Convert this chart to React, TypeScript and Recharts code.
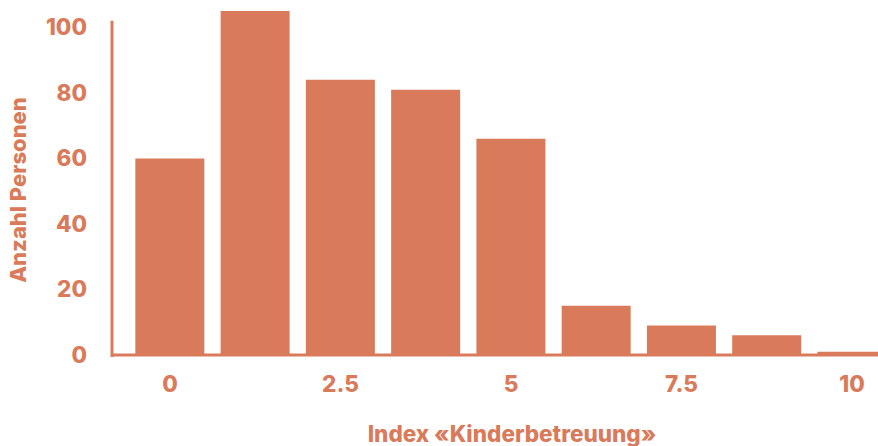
import React from 'react';
import { BarChart, Bar, XAxis, YAxis, ReferenceLine } from 'recharts';

const indexValues = [0, 1.25, 2.5, 3.75, 5, 6.25, 7.5, 8.75, 10];
const counts = [60, 105, 84, 81, 66, 15, 9, 6, 1];
const xTicks = [0, 2.5, 5, 7.5, 10];
const yTicks = [0, 20, 40, 60, 80, 100];

const data = indexValues.map((v, i) => ({ index: v, count: counts[i] }));

const COLOR = '#D97B5B';
const FONT = 'Inter, "Noto Sans", sans-serif';
const X_MIN = -0.85;
const X_MAX = 10.38;

const tickStyle = { fill: COLOR, fontSize: 22.5, fontWeight: 800, fontFamily: FONT };

export default function App() {
  return (
    <div style={{ position: 'absolute', left: 0, top: 0, width: 878, height: 446, background: '#fff' }}>
      <BarChart width={878} height={446} data={data} margin={{ top: 11, right: 0, left: 0, bottom: 0 }}>
        <XAxis
          type="number"
          dataKey="index"
          domain={[X_MIN, X_MAX]}
          allowDataOverflow
          ticks={xTicks}
          interval={0}
          tickLine={false}
          axisLine={{ stroke: COLOR, strokeWidth: 3 }}
          tickSize={0}
          tickMargin={21}
          height={91}
          tick={tickStyle}
          label={{
            content: (props: any) => {
              const vb = props.viewBox;
              const cx = vb.x + vb.width / 2 + 17;
              const cy = vb.y + vb.height - 4;
              return (
                <text x={cx} y={cy} textAnchor="middle" fill={COLOR} fontSize={22.5} fontWeight={800} fontFamily={FONT}>
                  Index «Kinderbetreuung»
                </text>
              );
            },
          }}
        />
        <YAxis
          type="number"
          domain={[0, 105]}
          ticks={yTicks}
          interval={0}
          width={112}
          axisLine={false}
          tickLine={false}
          tickSize={0}
          tickMargin={25}
          tick={tickStyle}
          label={{
            content: (props: any) => {
              const vb = props.viewBox;
              const cx = vb.x + 18;
              const cy = vb.y + vb.height / 2 + 7;
              return (
                <text
                  x={cx}
                  y={cy}
                  transform={`rotate(-90 ${cx} ${cy})`}
                  textAnchor="middle"
                  dominantBaseline="central"
                  fill={COLOR}
                  fontSize={22}
                  fontWeight={800}
                  fontFamily={FONT}
                >
                  Anzahl Personen
                </text>
              );
            },
          }}
        />
        <Bar dataKey="count" fill={COLOR} barSize={69} isAnimationActive={false} />
        <ReferenceLine
          segment={[{ x: X_MIN, y: -0.6 }, { x: X_MIN, y: 102 }]}
          stroke={COLOR}
          strokeWidth={3}
          ifOverflow="visible"
        />
      </BarChart>
    </div>
  );
}
